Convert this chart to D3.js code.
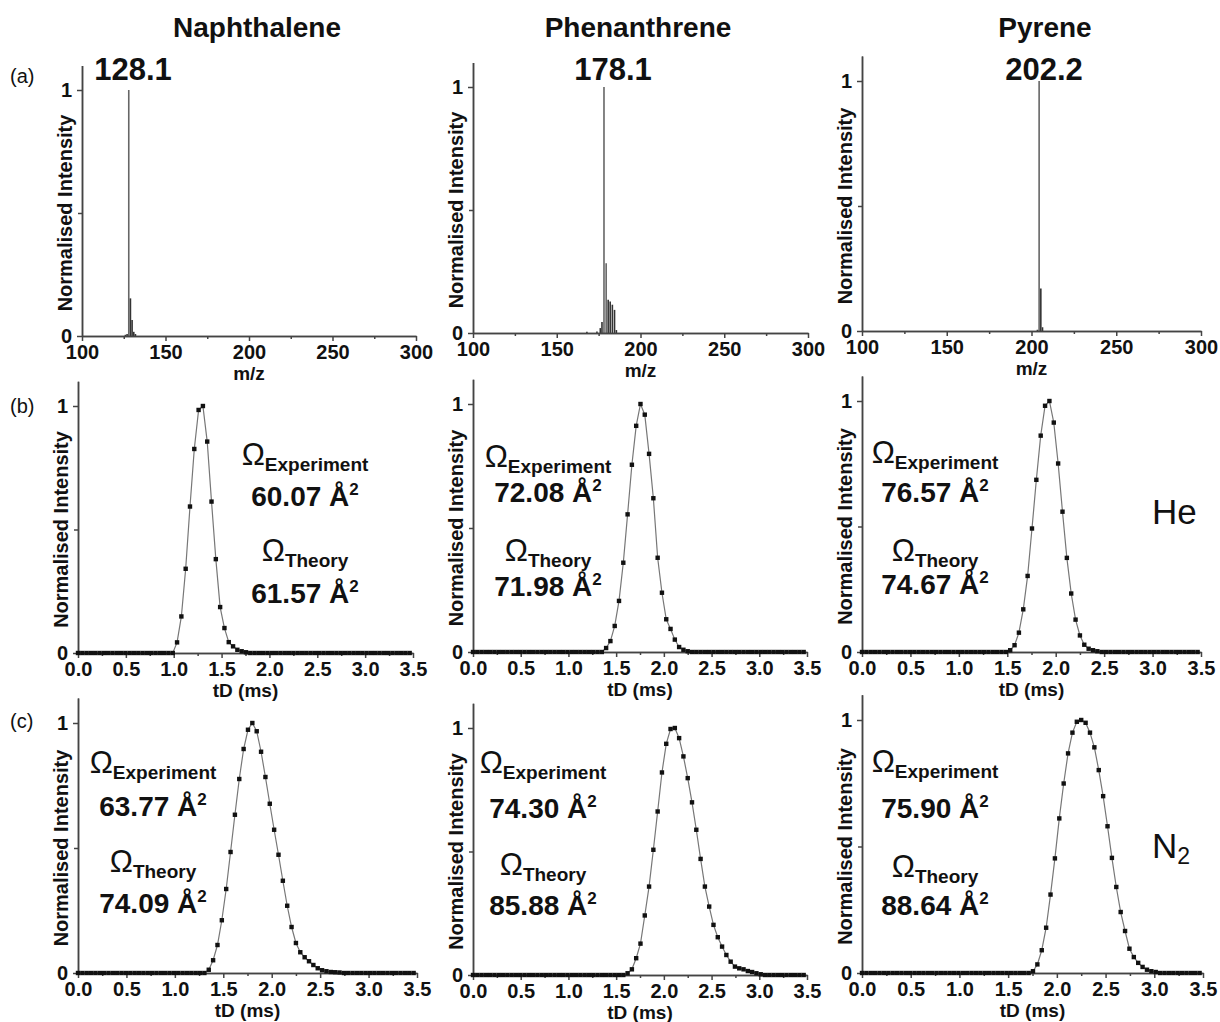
<!DOCTYPE html>
<html>
<head>
<meta charset="utf-8">
<title>PAH mass spectra and arrival time distributions</title>
<script src="https://cdn.jsdelivr.net/npm/d3@7"></script>
<style>
  body { margin: 0; background: #fff; }
  svg { font-family: "Liberation Sans", Arial, sans-serif; }
  .axis path, .axis line { stroke: #444; stroke-width: 1.5; }
  .axis text { font-weight: bold; font-size: 20px; fill: #111; }
</style>
</head>
<body>
<div id="chart"></div>
<script>
// ---------------- DATA ----------------
var compounds = ["Naphthalene", "Phenanthrene", "Pyrene"];
var parentMass = ["128.1", "178.1", "202.2"];
var rowLabels = ["(a)", "(b)", "(c)"];

// mass spectra (m/z, normalised intensity)
var naphMz  = [126, 127, 128, 129, 130, 131, 132];
var naphInt = [0.005, 0.008, 1.0, 0.153, 0.065, 0.017, 0.008];
var phenMz  = [168, 174, 176, 177, 178.2, 179.5, 180.7, 181.9, 183.2, 184.5, 185.6];
var phenInt = [0.005, 0.006, 0.02, 0.045, 1.0, 0.284, 0.135, 0.128, 0.115, 0.094, 0.012];
var pyrMz   = [203.5, 204.5, 205.5, 206.5];
var pyrInt  = [0.005, 1.0, 0.17, 0.015];

var mzTicks = [100, 150, 200, 250, 300];
var mzMinor = [125, 175, 225, 275];
var tdTicks = [0.0, 0.5, 1.0, 1.5, 2.0, 2.5, 3.0, 3.5];
var tdMinor = [0.25, 0.75, 1.25, 1.75, 2.25, 2.75, 3.25];
var intTicks = [0, 1];
var intMinor = [0.5];

// arrival time distributions, one value per drift bin, first bin at 0 ms
var binWidth = 0.045;
var naphHe = [
  0,0,0,0,0,0,0,0,0,0, 0,0,0,0,0,0,0,0,0,0, 0,0,0,
  0.043,0.148,0.341,0.593,0.826,0.984,1.0,0.856,0.613,0.380,0.186,0.101,0.044,0.027,0.013,0.007,0.003,
  0,0,0,0,0,0,0,0,0,0, 0,0,0,0,0,0,0,0,0,0, 0,0,0,0,0,0,0,0,0,0, 0,0,0,0,0,0,0,0
];
var phenHe = [
  0,0,0,0,0,0,0,0,0,0, 0,0,0,0,0,0,0,0,0,0, 0,0,0,0,0,0,0,0,0,0, 0,
  0.016,0.044,0.105,0.206,0.360,0.555,0.755,0.912,1.0,0.957,0.799,0.620,0.380,0.239,0.132,0.093,0.050,0.020,0.009,0.003,
  0,0,0,0,0,0,0,0,0,0, 0,0,0,0,0,0,0,0,0,0, 0,0,0,0,0,0,0
];
var pyrHe = [
  0,0,0,0,0,0,0,0,0,0, 0,0,0,0,0,0,0,0,0,0, 0,0,0,0,0,0,0,0,0,0, 0,0,0,0,
  0.007,0.027,0.077,0.170,0.303,0.492,0.686,0.862,0.981,1.0,0.914,0.751,0.559,0.375,0.233,0.129,0.066,0.029,0.013,0.007,0.003,
  0,0,0,0,0,0,0,0,0,0, 0,0,0,0,0,0,0,0,0,0, 0,0,0
];
var naphN2 = [
  0,0,0,0,0,0,0,0,0,0, 0,0,0,0,0,0,0,0,0,0, 0,0,0,0,0,0,0,0,0,0,
  0.013,0.051,0.112,0.211,0.336,0.484,0.633,0.776,0.896,0.973,1.0,0.967,0.885,0.784,0.677,0.573,
  0.473,0.369,0.269,0.184,0.120,0.083,0.063,0.047,0.032,0.019,0.011,0.007,0.004,0.003,0.002,
  0,0,0,0,0,0,0,0,0,0, 0,0,0,0,0,0,0
];
var phenN2 = [
  0,0,0,0,0,0,0,0,0,0, 0,0,0,0,0,0,0,0,0,0, 0,0,0,0,0,0,0,0,0,0, 0,0,0,0,0,0,
  0.007,0.023,0.068,0.127,0.241,0.358,0.507,0.662,0.820,0.936,0.996,1.0,0.959,0.885,0.797,0.699,
  0.588,0.470,0.358,0.277,0.203,0.153,0.115,0.081,0.054,0.034,0.027,0.023,0.016,0.012,0.007,0.003,
  0,0,0,0,0,0,0,0,0,0
];
var pyrN2 = [
  0,0,0,0,0,0,0,0,0,0, 0,0,0,0,0,0,0,0,0,0, 0,0,0,0,0,0,0,0,0,0, 0,0,0,0,0,0,0,0,0,
  0.007,0.034,0.090,0.179,0.310,0.453,0.611,0.749,0.868,0.950,0.993,1.0,0.989,0.950,0.892,
  0.802,0.699,0.580,0.455,0.340,0.241,0.166,0.096,0.063,0.040,0.024,0.013,0.007,0.004,
  0,0,0,0,0,0,0,0,0,0
];

// collision cross sections (A^2)
var omegaExpHe = ["60.07", "72.08", "76.57"];
var omegaThHe  = ["61.57", "71.98", "74.67"];
var omegaExpN2 = ["63.77", "74.30", "75.90"];
var omegaThN2  = ["74.09", "85.88", "88.64"];

// ---------------- LAYOUT ----------------
var W = 1220, H = 1022;
var svg = d3.select("#chart").append("svg").attr("width", W).attr("height", H);

var spectra = [[naphMz, naphInt], [phenMz, phenInt], [pyrMz, pyrInt]];
var atds = [[naphHe, phenHe, pyrHe], [naphN2, phenN2, pyrN2]];
var omegas = [[omegaExpHe, omegaThHe], [omegaExpN2, omegaThN2]];

// axis frames per panel: y-axis x, right end x, baseline y, y of intensity 1
var frames = [
  [[82, 416, 336, 90], [473, 808, 333, 87], [862, 1201, 331, 81]],
  [[78, 413, 653, 406], [473, 807, 652, 404], [862, 1201, 652, 401]],
  [[78, 417, 973, 723], [473, 807, 975, 728], [862, 1203, 973, 720]]
];
// annotation centre x and baselines (Omega exp, value, Omega theory, value)
var notes = [
  [[305, 465, 506, 561, 603], [548, 467, 502, 561, 596], [935, 463, 502, 561, 594]],
  [[153, 773, 816, 872, 913], [543, 773, 818, 875, 915], [935, 772, 818, 877, 915]]
];
var titleX = [257, 638, 1045];
var massX = [133, 613, 1044];
var rowLabelY = [83, 413, 728];

// titles
svg.selectAll(".title").data(compounds).enter().append("text")
  .attr("x", function (d, i) { return titleX[i]; })
  .attr("y", 37)
  .attr("text-anchor", "middle")
  .style("font-size", "28px").style("font-weight", "bold").style("fill", "#111")
  .text(function (d) { return d; });

svg.selectAll(".mass").data(parentMass).enter().append("text")
  .attr("x", function (d, i) { return massX[i]; })
  .attr("y", 80)
  .attr("text-anchor", "middle")
  .style("font-size", "31px").style("font-weight", "bold").style("fill", "#111")
  .text(function (d) { return d; });

svg.selectAll(".rowlab").data(rowLabels).enter().append("text")
  .attr("x", 10)
  .attr("y", function (d, i) { return rowLabelY[i]; })
  .style("font-size", "20px").style("fill", "#111")
  .text(function (d) { return d; });

function drawAxes(g, x, y, f, ticks, minor, fmt, label) {
  g.append("g").attr("class", "axis")
    .attr("transform", "translate(0," + f[2] + ")")
    .call(d3.axisBottom(x).tickValues(ticks).tickFormat(fmt).tickSize(5).tickPadding(4).tickSizeOuter(0));
  g.append("g").attr("class", "axis")
    .attr("transform", "translate(0," + f[2] + ")")
    .call(d3.axisBottom(x).tickValues(minor).tickFormat("").tickSize(3).tickSizeOuter(0));
  g.append("g").attr("class", "axis")
    .attr("transform", "translate(" + f[0] + ",0)")
    .call(d3.axisLeft(y).tickValues(intTicks).tickFormat(d3.format("d")).tickSize(5).tickPadding(5).tickSizeOuter(0));
  g.append("g").attr("class", "axis")
    .attr("transform", "translate(" + f[0] + ",0)")
    .call(d3.axisLeft(y).tickValues(intMinor).tickFormat("").tickSize(4).tickSizeOuter(0));

  g.append("text")
    .attr("x", (f[0] + f[1]) / 2)
    .attr("y", f[2] + 44)
    .attr("text-anchor", "middle")
    .style("font-size", "19px").style("font-weight", "bold").style("fill", "#111")
    .text(label);

  g.append("text")
    .attr("transform", "translate(" + (f[0] - 10) + "," + ((f[2] + f[3]) / 2) + ") rotate(-90)")
    .attr("text-anchor", "middle")
    .style("font-size", "20px").style("font-weight", "bold").style("fill", "#111")
    .text("Normalised Intensity");
}

function yScale(f) {
  return d3.scaleLinear().domain([0, 1.1]).range([f[2], f[2] - 1.1 * (f[2] - f[3])]);
}

// ---------------- (a) mass spectra ----------------
spectra.forEach(function (s, c) {
  var f = frames[0][c];
  var g = svg.append("g");
  var x = d3.scaleLinear().domain([100, 300]).range([f[0], f[1]]);
  var y = yScale(f);
  var pts = s[0].map(function (m, i) { return { mz: m, v: s[1][i] }; });

  g.selectAll(".stick").data(pts).enter().append("line")
    .attr("x1", function (d) { return x(d.mz); })
    .attr("x2", function (d) { return x(d.mz); })
    .attr("y1", y(0))
    .attr("y2", function (d) { return y(d.v); })
    .style("stroke", function (d) { return d.v < 0.2 ? "#333" : "#666"; })
    .style("stroke-width", 1.6);

  drawAxes(g, x, y, f, mzTicks, mzMinor, d3.format("d"), "m/z");
});

// ---------------- (b), (c) arrival time distributions ----------------
atds.forEach(function (rowData, r) {
  rowData.forEach(function (vals, c) {
    var f = frames[r + 1][c];
    var g = svg.append("g");
    var x = d3.scaleLinear().domain([0, 3.5]).range([f[0], f[1]]);
    var y = yScale(f);
    var pts = vals.map(function (v, i) { return { t: i * binWidth, v: v }; });

    g.append("path").datum(pts)
      .attr("d", d3.line().x(function (d) { return x(d.t); }).y(function (d) { return y(d.v); }))
      .style("fill", "none").style("stroke", "#777").style("stroke-width", 1.2);

    drawAxes(g, x, y, f, tdTicks, tdMinor, d3.format(".1f"), "tD (ms)");

    g.selectAll(".pt").data(pts).enter().append("rect")
      .attr("x", function (d) { return x(d.t) - 2.2; })
      .attr("y", function (d) { return y(d.v) - 2.2; })
      .attr("width", 4.4).attr("height", 4.4)
      .style("fill", "#111");

    // cross section annotations
    var n = notes[r][c];
    var lines = [["Experiment", omegas[r][0][c]], ["Theory", omegas[r][1][c]]];
    lines.forEach(function (l, k) {
      var t1 = g.append("text").attr("x", n[0]).attr("y", n[1 + 2 * k])
        .attr("text-anchor", "middle").style("fill", "#111");
      t1.append("tspan").style("font-size", "31px").text("\u03A9");
      t1.append("tspan").attr("dy", 6).style("font-size", "19px").style("font-weight", "bold").text(l[0]);

      var t2 = g.append("text").attr("x", n[0]).attr("y", n[2 + 2 * k])
        .attr("text-anchor", "middle").style("fill", "#111")
        .style("font-size", "28px").style("font-weight", "bold");
      t2.append("tspan").text(l[1] + " \u00C5");
      t2.append("tspan").attr("dy", -11).style("font-size", "17px").text("2");
    });
  });
});

// gas labels
svg.append("text").attr("x", 1152).attr("y", 524)
  .style("font-size", "35px").style("fill", "#111").text("He");
var n2 = svg.append("text").attr("x", 1152).attr("y", 858)
  .style("font-size", "35px").style("fill", "#111");
n2.append("tspan").text("N");
n2.append("tspan").attr("dy", 6).style("font-size", "23px").text("2");
</script>
</body>
</html>
